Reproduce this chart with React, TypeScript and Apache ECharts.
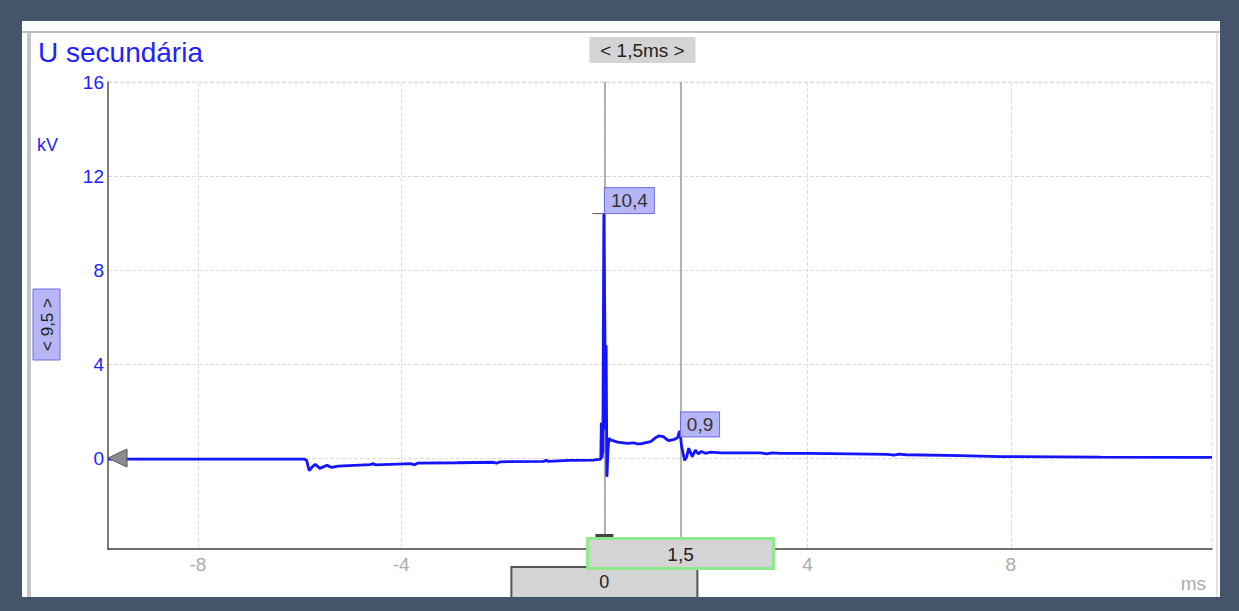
import React, { useEffect, useRef } from "react";
import * as echarts from "echarts";

const timeMs = [
  -9.77, -7.5, -5.9, -5.86, -5.81, -5.74, -5.69, -5.6, -5.46, -5.37, -5.24, -4.61, -4.55, -4.5, -3.8, -3.74, -3.68,
  -2.9, -2.19, -2.12, -2.05, -1.2, -1.15, -1.1, -0.7, -0.22, -0.1, -0.07, -0.06, -0.05, -0.03, -0.01, 0.01, 0.02,
  0.035, 0.05, 0.07, 0.09, 0.12, 0.26, 0.45, 0.57, 0.65, 0.71, 0.91, 1.0, 1.07, 1.16, 1.26, 1.36, 1.44, 1.48, 1.5,
  1.52, 1.58, 1.62, 1.66, 1.73, 1.79, 1.85, 1.91, 1.99, 2.09, 2.29, 3.07, 3.2, 3.3, 3.47, 4.0, 4.85, 5.58, 5.7, 5.8,
  5.93, 7.01, 7.8, 9.77, 11.96,
];
const voltKv = [
  -0.05, -0.05, -0.05, -0.1, -0.54, -0.35, -0.27, -0.44, -0.31, -0.4, -0.34, -0.28, -0.24, -0.29, -0.24, -0.29, -0.22,
  -0.2, -0.18, -0.22, -0.16, -0.14, -0.1, -0.14, -0.1, -0.09, -0.06, -0.05, 1.5, 0.0, 0.3, 10.4, 5.6, 1.2,
  4.8, -0.8, 0.3, 0.85, 0.77, 0.68, 0.62, 0.65, 0.6, 0.6, 0.7, 0.85, 0.94, 0.91, 0.74, 0.78, 0.86, 1.15, 0.9,
  0.5, -0.1, 0.05, 0.42, 0.06, 0.34, 0.18, 0.28, 0.2, 0.25, 0.22, 0.22, 0.18, 0.22, 0.2, 0.2, 0.18, 0.16, 0.12, 0.17,
  0.14, 0.1, 0.06, 0.04, 0.03,
];
const xTicks = [-8, -4, 0, 4, 8];
const xTickLabels = [-8, -4, 4, 8];
const yTicks = [0, 4, 8, 12, 16];
const cursorTimes = [0, 1.5];
const peakValue = 10.4;
const cursorValue = 0.9;
const scaleLabel = 9.5;
const xMin = -9.77;
const xMax = 11.96;
const yMin = -3.87;
const yMax = 16;

const fmt = (v: number) => (Number.isInteger(v) ? String(v) : v.toFixed(1).replace(".", ","));
const FONT = "Liberation Sans, Arial, sans-serif";

export default function App() {
  const ref = useRef<HTMLDivElement>(null);
  useEffect(() => {
    const chart = echarts.init(ref.current!, null, { renderer: "svg" });
    chart.setOption({
      animation: false,
      backgroundColor: "#44546a",
      grid: {
        left: 108, right: 27, top: 82, bottom: 62, show: true,
        borderColor: "#dedede", borderWidth: 1, borderType: "dashed",
      },
      xAxis: {
        type: "value", min: xMin, max: xMax,
        axisLine: { onZero: false, lineStyle: { color: "#444", width: 1.5 } },
        axisTick: { show: false, customValues: xTicks },
        axisLabel: { customValues: xTickLabels, color: "#ababab", fontSize: 19, margin: 6, fontFamily: FONT, formatter: (v: number) => fmt(v) },
        splitLine: { show: true, lineStyle: { color: "#dcdcdc", type: "dashed", width: 1 } },
      },
      yAxis: {
        type: "value", min: yMin, max: yMax,
        axisLine: { show: true, onZero: false, lineStyle: { color: "#555", width: 1.5 } },
        axisTick: { show: false, customValues: yTicks },
        axisLabel: { customValues: yTicks, color: "#2323ff", fontSize: 19, margin: 4, fontFamily: FONT, formatter: (v: number) => fmt(v) },
        splitLine: { show: true, lineStyle: { color: "#dcdcdc", type: "dashed", width: 1 } },
      },
      series: [
        {
          type: "line",
          data: timeMs.map((t, i) => [t, voltKv[i]]),
          showSymbol: false,
          symbol: "none",
          lineStyle: { color: "#1414ff", width: 2.8 },
          z: 5,
          markLine: {
            silent: true,
            symbol: "none",
            label: { show: false },
            lineStyle: { color: "#9a9a9a", width: 1.5, type: "solid" },
            data: cursorTimes.map((t) => ({ xAxis: t })),
          },
        },
      ],
    });

    const px = (x: number, y: number) => chart.convertToPixel({ gridIndex: 0 }, [x, y]) as number[];
    const c0x = px(cursorTimes[0], 0)[0];
    const c1x = px(cursorTimes[1], 0)[0];
    const y0 = px(0, 0)[1];
    const yPk = px(0, peakValue)[1];
    const yCv = px(0, cursorValue)[1];
    const xL = px(xMin, 0)[0];
    const xR = px(xMax, 0)[0];
    const yBot = px(0, yMin)[1];
    const mid = (c0x + c1x) / 2;
    const delta = cursorTimes[1] - cursorTimes[0];
    const lav = "#b6b6f6";
    const lavB = "#6a6ae8";
    const gray = "#d4d4d4";

    chart.setOption({
      graphic: [
        { type: "rect", z: -10, shape: { x: 22, y: 21, width: 1198, height: 576 }, style: { fill: "#ffffff" } },
        { type: "line", z: -9, shape: { x1: 22, y1: 32, x2: 1220, y2: 32 }, style: { stroke: "#a8a8a8", lineWidth: 1.5 } },
        { type: "rect", z: -9, shape: { x: 27, y: 33, width: 4, height: 564 }, style: { fill: "#c6c6c6" } },
        { type: "line", z: -9, shape: { x1: 1217, y1: 33, x2: 1217, y2: 597 }, style: { stroke: "#e2e2e2", lineWidth: 2 } },
        { type: "text", z: 50, x: 38, y: 52, style: { text: "U secundária", fill: "#1f1fff", fontSize: 28, fontFamily: FONT, verticalAlign: "middle" } },
        { type: "text", z: 50, x: 37, y: 145, style: { text: "kV", fill: "#2323ff", fontSize: 18, fontFamily: FONT, verticalAlign: "middle" } },
        { type: "text", z: 50, x: xR - 6, y: 583, style: { text: "ms", fill: "#ababab", fontSize: 19, fontFamily: FONT, align: "right", verticalAlign: "middle" } },
        // delta box at top
        { type: "rect", z: 50, shape: { x: mid - 53, y: 37, width: 106, height: 26 }, style: { fill: gray } },
        { type: "text", z: 51, x: mid, y: 50, style: { text: `< ${fmt(delta)}ms >`, fill: "#222", fontSize: 19, fontFamily: FONT, align: "center", verticalAlign: "middle" } },
        // scale box on left
        { type: "rect", z: 50, shape: { x: 33, y: 289, width: 27, height: 71 }, style: { fill: lav, stroke: lavB, lineWidth: 1 } },
        { type: "text", z: 51, x: 47, y: 324.5, rotation: Math.PI / 2, style: { text: `< ${fmt(scaleLabel)} >`, fill: "#222", fontSize: 17, fontFamily: FONT, align: "center", verticalAlign: "middle" } },
        // zero marker triangle
        { type: "polygon", z: 50, shape: { points: [[xL, y0], [xL + 19, y0 - 9], [xL + 19, y0 + 9]] }, style: { fill: "#8c8c8c", stroke: "#555", lineWidth: 1 } },
        // peak label
        { type: "line", z: 50, shape: { x1: c0x - 12, y1: yPk, x2: c0x, y2: yPk }, style: { stroke: "#555", lineWidth: 1 } },
        { type: "rect", z: 50, shape: { x: c0x, y: yPk - 26, width: 50, height: 26 }, style: { fill: lav, stroke: lavB, lineWidth: 1 } },
        { type: "text", z: 51, x: c0x + 25, y: yPk - 13, style: { text: fmt(peakValue), fill: "#333", fontSize: 19, fontFamily: FONT, align: "center", verticalAlign: "middle" } },
        // cursor value label
        { type: "rect", z: 50, shape: { x: c1x, y: yCv - 25, width: 39, height: 25 }, style: { fill: lav, stroke: lavB, lineWidth: 1 } },
        { type: "text", z: 51, x: c1x + 19.5, y: yCv - 12.5, style: { text: fmt(cursorValue), fill: "#333", fontSize: 19, fontFamily: FONT, align: "center", verticalAlign: "middle" } },
        // cursor 0 bottom marker
        { type: "rect", z: 50, shape: { x: c0x - 9, y: yBot - 15, width: 18, height: 3 }, style: { fill: "#444" } },
        // "0" box
        { type: "rect", z: 52, shape: { x: c0x - 93, y: 567, width: 186, height: 30 }, style: { fill: gray } },
        { type: "polyline", z: 52, shape: { points: [[c0x - 93, 597], [c0x - 93, 567], [c0x + 93, 567], [c0x + 93, 597]] }, style: { stroke: "#555", lineWidth: 2, fill: null } },
        { type: "text", z: 53, x: c0x, y: 582, style: { text: fmt(cursorTimes[0]), fill: "#222", fontSize: 18, fontFamily: FONT, align: "center", verticalAlign: "middle" } },
        // "1,5" box
        { type: "rect", z: 54, shape: { x: c1x - 93, y: 538.5, width: 186, height: 30 }, style: { fill: gray, stroke: "#8ee88e", lineWidth: 3 } },
        { type: "text", z: 55, x: c1x, y: 554, style: { text: fmt(cursorTimes[1]), fill: "#222", fontSize: 19, fontFamily: FONT, align: "center", verticalAlign: "middle" } },
      ],
    });

    return () => chart.dispose();
  }, []);
  return <div ref={ref} style={{ position: "fixed", left: 0, top: 0, width: 1239, height: 611 }} />;
}
